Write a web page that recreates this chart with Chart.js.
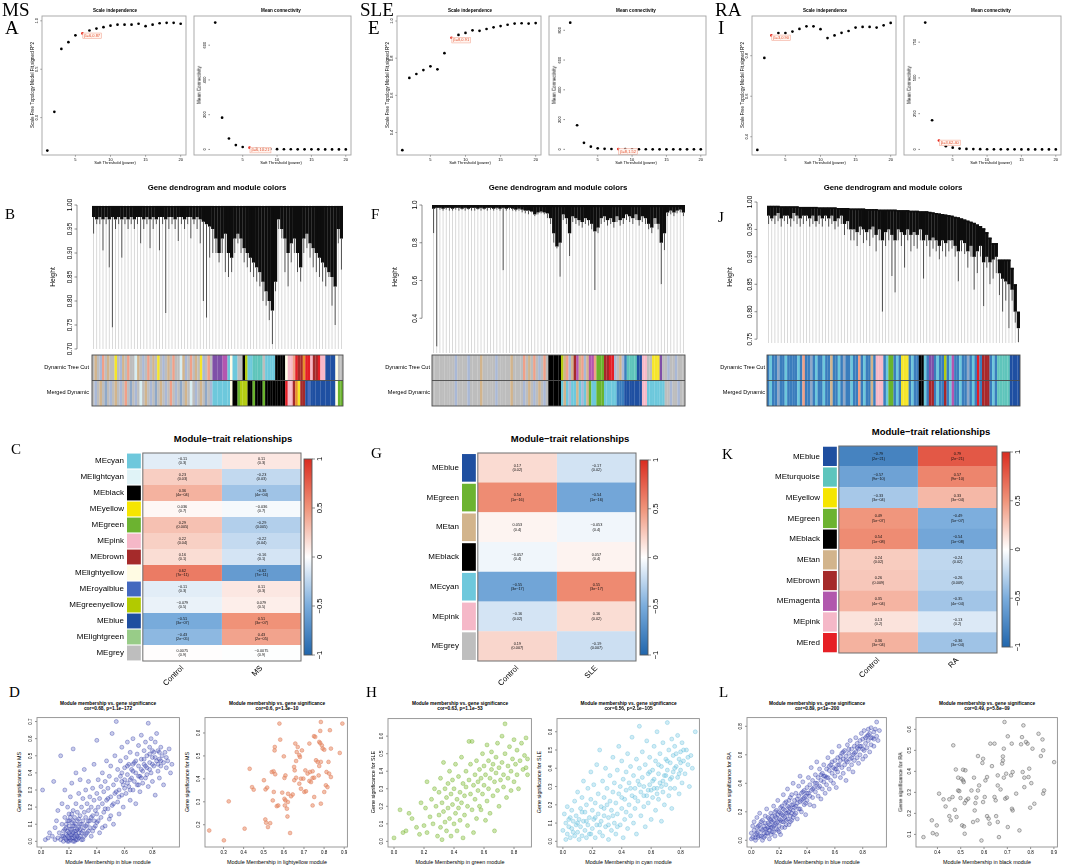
<!DOCTYPE html>
<html>
<head>
<meta charset="utf-8">
<title>WGCNA MS / SLE / RA</title>
<script src="https://cdn.jsdelivr.net/npm/chart.js@4.4.1/dist/chart.umd.min.js"></script>
<style>
  html, body { margin: 0; padding: 0; background: #fff; }
  #fig { position: relative; width: 1065px; height: 867px; overflow: hidden; font-family: "Liberation Sans", Arial, sans-serif; }
  #fig canvas { position: absolute; }
  .t { position: absolute; white-space: nowrap; color: #000; line-height: 1; }
  .serif { font-family: "Liberation Serif", "Times New Roman", serif; }
</style>
</head>
<body>
<div id="fig"></div>
<script>
// ---------- soft threshold (row 1) ----------
const powers = [1, 2, 3, 4, 5, 6, 7, 8, 9, 10, 11, 12, 13, 14, 15, 16, 17, 18, 19, 20];
const powerTicks = [5, 10, 15, 20];
const msFit = [-0.34, 0.06, 0.71, 0.78, 0.85, 0.87, 0.90, 0.92, 0.935, 0.95, 0.96, 0.96, 0.96, 0.97, 0.945, 0.96, 0.975, 0.98, 0.98, 0.97];
const sleFit = [0.305, 0.694, 0.715, 0.736, 0.756, 0.74, 0.827, 0.91, 0.925, 0.936, 0.95, 0.947, 0.957, 0.966, 0.973, 0.98, 0.986, 0.988, 0.986, 0.989];
const raFit = [0.335, 0.789, 0.90, 0.912, 0.912, 0.919, 0.932, 0.945, 0.945, 0.931, 0.887, 0.90, 0.913, 0.922, 0.939, 0.942, 0.942, 0.939, 0.95, 0.962];
const msMeanK = [730, 183, 63, 25, 14, 10.2, 4.5, 3, 2.2, 1.6, 1.2, 1, 0.8, 0.6, 0.5, 0.4, 0.3, 0.3, 0.2, 0.2];
const sleMeanK = [851, 162, 44, 18, 7, 3.5, 2.2, 1.52, 1.0, 0.8, 0.6, 0.5, 0.4, 0.3, 0.3, 0.2, 0.2, 0.2, 0.1, 0.1];
const raMeanK = [887, 204, 62.4, 23, 12, 6, 3.5, 2.2, 1.5, 1.1, 0.8, 0.6, 0.5, 0.4, 0.3, 0.3, 0.2, 0.2, 0.2, 0.1];
const msBeta = 6, sleBeta = 8, raBeta = 3;
const msFitNote = 'β=6,0.87', msKNote = 'β=6,10.21';
const sleFitNote = 'β=8,0.91', sleKNote = 'β=8,1.52';
const raFitNote = 'β=3,0.90', raKNote = 'β=3,62.40';
const msFitTicks = [0.0, 0.5, 1.0], sleFitTicks = [0.4, 0.6, 0.8, 1.0], raFitTicks = [0.4, 0.6, 0.8];
const msKTicks = [0, 200, 400, 600], sleKTicks = [0, 200, 400, 600, 800], raKTicks = [0, 250, 500, 750];

// ---------- dendrograms (row 2) ----------
const msBranchLow = [0.975,0.97,0.975,0.97,0.975,0.97,0.975,0.97,0.975,0.97,
  0.975,0.97,0.975,0.97,0.975,0.975,0.97,0.975,0.97,0.975,
  0.97,0.975,0.975,0.97,0.975,0.975,0.97,0.975,0.975,0.97,
  0.975,0.975,0.97,0.975,0.97,0.965,0.96,0.955,0.95,0.93,
  0.90,0.93,0.94,0.90,0.89,0.93,0.94,0.93,0.91,0.90,
  0.89,0.88,0.87,0.86,0.84,0.82,0.80,0.78,0.84,0.97,
  0.95,0.93,0.90,0.92,0.93,0.90,0.87,0.93,0.94,0.92,
  0.91,0.90,0.89,0.88,0.87,0.86,0.85,0.83,0.95,0.93];
const msLeafTip = [0.94,0.96,0.96,0.905,0.96,0.87,0.745,0.95,0.96,0.89,
  0.96,0.95,0.96,0.95,0.96,0.92,0.95,0.96,0.91,0.95,
  0.96,0.905,0.96,0.775,0.95,0.96,0.95,0.925,0.96,0.95,
  0.96,0.93,0.96,0.95,0.92,0.80,0.765,0.89,0.90,0.90,
  0.88,0.90,0.86,0.85,0.86,0.90,0.92,0.90,0.88,0.87,
  0.86,0.85,0.84,0.83,0.80,0.79,0.76,0.71,0.82,0.95,
  0.93,0.86,0.83,0.88,0.90,0.86,0.84,0.90,0.91,0.89,
  0.87,0.86,0.85,0.84,0.83,0.85,0.79,0.75,0.92,0.865];
const msBranchTop = 0.998;
const sleBranchLow = [0.98,0.985,0.985,0.98,0.985,0.985,0.98,0.985,0.985,0.98,
  0.985,0.98,0.985,0.985,0.98,0.985,0.98,0.985,0.985,0.98,
  0.985,0.98,0.985,0.98,0.985,0.98,0.975,0.98,0.975,0.97,
  0.97,0.965,0.95,0.96,0.965,0.96,0.955,0.93,0.85,0.78,
  0.80,0.95,0.93,0.85,0.94,0.93,0.92,0.91,0.93,0.92,
  0.90,0.86,0.88,0.93,0.94,0.92,0.93,0.91,0.94,0.92,
  0.93,0.95,0.94,0.93,0.95,0.92,0.94,0.93,0.90,0.88,
  0.93,0.90,0.80,0.85,0.96,0.97,0.96,0.97,0.975,0.96];
const sleLeafTip = [0.85,0.25,0.975,0.97,0.975,0.97,0.97,0.975,0.97,0.975,
  0.97,0.975,0.97,0.97,0.975,0.97,0.975,0.97,0.975,0.97,
  0.975,0.97,0.655,0.97,0.975,0.97,0.965,0.97,0.96,0.955,
  0.95,0.96,0.94,0.95,0.955,0.95,0.93,0.90,0.80,0.77,
  0.62,0.92,0.90,0.73,0.91,0.90,0.89,0.88,0.90,0.89,
  0.87,0.55,0.85,0.90,0.91,0.89,0.90,0.88,0.91,0.89,
  0.90,0.92,0.91,0.90,0.92,0.89,0.91,0.90,0.87,0.85,
  0.90,0.87,0.58,0.76,0.94,0.95,0.94,0.955,0.96,0.94];
const sleBranchTop = 1.0;
const raBranchTop = [0.993,0.993,0.993,0.993,0.992,0.992,0.992,0.992,0.992,0.992,
  0.991,0.991,0.991,0.991,0.991,0.991,0.990,0.990,0.990,0.990,
  0.990,0.990,0.989,0.989,0.989,0.989,0.988,0.988,0.988,0.988,
  0.988,0.987,0.987,0.987,0.987,0.986,0.986,0.986,0.986,0.986,
  0.986,0.985,0.985,0.985,0.985,0.984,0.984,0.984,0.983,0.983,
  0.983,0.982,0.981,0.980,0.979,0.978,0.977,0.976,0.975,0.973,
  0.972,0.970,0.968,0.966,0.964,0.962,0.959,0.956,0.952,0.945,
  0.935,0.925,0.925,0.895,0.895,0.895,0.895,0.88,0.85,0.80];
const raBranchLow = [0.975,0.97,0.975,0.98,0.97,0.975,0.975,0.97,0.98,0.975,
  0.97,0.975,0.975,0.97,0.975,0.965,0.975,0.97,0.975,0.97,
  0.975,0.965,0.97,0.975,0.96,0.965,0.95,0.95,0.945,0.955,
  0.95,0.945,0.95,0.955,0.94,0.95,0.93,0.945,0.95,0.94,
  0.93,0.95,0.945,0.94,0.95,0.94,0.945,0.94,0.95,0.93,
  0.94,0.93,0.935,0.93,0.92,0.93,0.925,0.93,0.93,0.92,
  0.91,0.93,0.925,0.91,0.92,0.90,0.91,0.92,0.89,0.90,
  0.89,0.895,0.90,0.87,0.86,0.855,0.85,0.84,0.80,0.77];
const raLeafTip = [0.96,0.965,0.96,0.965,0.955,0.965,0.96,0.955,0.965,0.96,
  0.955,0.96,0.965,0.955,0.96,0.955,0.96,0.955,0.965,0.955,
  0.96,0.95,0.955,0.96,0.94,0.95,0.93,0.93,0.92,0.94,
  0.925,0.93,0.92,0.935,0.91,0.93,0.80,0.92,0.93,0.865,
  0.835,0.93,0.92,0.88,0.93,0.91,0.92,0.915,0.93,0.86,
  0.92,0.90,0.915,0.91,0.895,0.91,0.90,0.91,0.915,0.90,
  0.855,0.91,0.905,0.88,0.90,0.84,0.87,0.90,0.81,0.88,
  0.85,0.86,0.87,0.83,0.80,0.82,0.77,0.82,0.78,0.745];
const msDendroTicks = [0.70, 0.75, 0.80, 0.85, 0.90, 0.95, 1.00];
const sleDendroTicks = [0.4, 0.6, 0.8, 1.0];
const raDendroTicks = [0.75, 0.80, 0.85, 0.90, 0.95, 1.00];

// module colour rows under the dendrograms (one letter per column)
const msDynamic = '.t.vs.t.' + '.y.vt.s.' + '.lt.v.s.' + 't.y.v.t.' + 's..ltv.s' + '.t.yv.s.' +
  'uuuumm' + 'cwcc..ke' + 'ccqqqq.cccc' + 'kkkkwpp' + 'sRbboRRpbbRppBBBBw..';
const msMerged = '.v.t.g.v' + '.t.v.s.g' + '.v.l.t.v' + '.g.t.v.s' + '.v.g.t.l' + '.v.t.g.v' +
  'cccccccw' + 'kkneee' + 'kknkkkn' + 'kkkkkkkk' + 'Rppboyb' + 'bBrB' + 'BBBBBBBBB' + 'wnn';
const sleDynamic = '.........v' + '....v....t' + '.....v....' + '.t....s.t.' + 's.v.s.' +
  'kkkkke' + 'tsvtbmtsvt' + 'mmsnnnddRR' + 'v.tvTqqqqBBpp..' + 'yyyu' + '..v..v...';
const sleMerged = '.........v' + '....v....t' + '.....v....' + '.t....v.t.' + 'v.t.v.' +
  'kkkkk' + 'ctcvcctcvct' + 'nccnnnccccc' + 'TTTBBBBBBB' + 'pp' + 'ccccccc' + '..v..v..';
const raDynamic = 'TcTTgTTcTT' + 'TTcTsTTgTc' + 'TTcTTtTTcT' + 'gTTcTTsTcT' + 'TtTpppTcnn' +
  'TcTyyyTcTT' + 'kkcTuuTcTT' + 'eTcmTTcTTg' + 'TcTRTdddTc' + 'TqqqqqBBBB';
const raMerged = 'TcTTgTTcTT' + 'TTcTsTTgTc' + 'TTcTTtTTcT' + 'gTTcTTsTcT' + 'TtTpppTcnn' +
  'TcTyyyTcTT' + 'kkcTddTcTT' + 'dTcmTTcTTg' + 'TcTRTdddTc' + 'TqqqqqBBBB';

// ---------- module-trait heatmaps (row 3) ----------
const msModules = ['cyan','lightcyan','black','yellow','green','pink','brown','lightyellow','royalblue','greenyellow','blue','lightgreen','grey'];
const msCorControl = [-0.11, 0.23, 0.36, 0.036, 0.29, 0.22, 0.16, 0.62, -0.11, -0.079, -0.51, -0.43, 0.0075];
const msCorTrait = [0.11, -0.23, -0.36, -0.036, -0.29, -0.22, -0.16, -0.62, 0.11, 0.079, 0.51, 0.43, -0.0075];
const msPvals = ['0.3','0.03','4e-04','0.7','0.005','0.04','0.1','7e-11','0.3','0.5','3e-07','2e-05','0.9'];
const sleModules = ['blue','green','tan','black','cyan','pink','grey'];
const sleCorControl = [0.17, 0.54, 0.053, -0.057, -0.55, -0.16, 0.19];
const sleCorTrait = [-0.17, -0.54, -0.053, 0.057, 0.55, 0.16, -0.19];
const slePvals = ['0.02','1e-16','0.4','0.4','3e-17','0.02','0.007'];
const raModules = ['blue','turquoise','yellow','green','black','tan','brown','magenta','pink','red'];
const raCorControl = [-0.79, -0.57, -0.33, 0.49, 0.54, 0.24, 0.26, 0.35, 0.13, 0.36];
const raCorTrait = [0.79, 0.57, 0.33, -0.49, -0.54, -0.24, -0.26, -0.35, -0.13, -0.36];
const raPvals = ['2e-21','9e-10','3e-04','5e-07','1e-08','0.02','0.009','4e-04','0.2','3e-04'];
const legendTicks = [-1, -0.5, 0, 0.5, 1];

// ---------- MM vs GS scatter (row 4), [membership, significance] ----------
const msBluePts = [[0.01,0.30],[0.03,0.01],[0.05,0.02],[0.06,0.05],[0.08,0.03],[0.09,0.35],[0.10,0.01],[0.10,0.08],[0.11,0.12],[0.12,0.02],[0.12,0.18],[0.13,0.05],[0.14,0.50],[0.14,0.01],[0.15,0.03],[0.15,0.10],[0.15,0.22],[0.16,0.00],[0.16,0.06],[0.17,0.02],[0.17,0.14],[0.17,0.30],[0.18,0.01],[0.18,0.04],[0.18,0.08],[0.19,0.00],[0.19,0.03],[0.19,0.12],[0.19,0.20],[0.20,0.02],[0.20,0.05],[0.20,0.09],[0.20,0.16],[0.21,0.01],[0.21,0.04],[0.21,0.26],[0.22,0.02],[0.22,0.07],[0.22,0.11],[0.22,0.34],[0.23,0.00],[0.23,0.05],[0.23,0.18],[0.23,0.54],[0.24,0.03],[0.24,0.09],[0.24,0.14],[0.25,0.01],[0.25,0.06],[0.25,0.22],[0.25,0.40],[0.26,0.03],[0.26,0.12],[0.26,0.17],[0.27,0.08],[0.27,0.28],[0.27,0.02],[0.28,0.10],[0.28,0.15],[0.28,0.36],[0.29,0.05],[0.29,0.20],[0.30,0.12],[0.30,0.25],[0.30,0.01],[0.31,0.08],[0.31,0.17],[0.31,0.42],[0.32,0.04],[0.32,0.14],[0.32,0.30],[0.33,0.10],[0.33,0.22],[0.34,0.06],[0.34,0.18],[0.34,0.35],[0.35,0.12],[0.35,0.26],[0.36,0.03],[0.36,0.20],[0.37,0.15],[0.37,0.31],[0.38,0.08],[0.38,0.24],[0.38,0.45],[0.39,0.18],[0.40,0.11],[0.40,0.28],[0.40,0.59],[0.41,0.20],[0.41,0.36],[0.42,0.05],[0.42,0.25],[0.43,0.14],[0.43,0.32],[0.44,0.22],[0.44,0.40],[0.45,0.17],[0.45,0.29],[0.46,0.09],[0.46,0.35],[0.47,0.24],[0.47,0.47],[0.48,0.19],[0.48,0.31],[0.49,0.13],[0.49,0.38],[0.50,0.26],[0.50,0.44],[0.51,0.21],[0.51,0.63],[0.52,0.33],[0.52,0.10],[0.53,0.28],[0.53,0.50],[0.54,0.70],[0.54,0.36],[0.55,0.23],[0.55,0.42],[0.56,0.30],[0.56,0.16],[0.57,0.47],[0.57,0.38],[0.58,0.27],[0.58,0.55],[0.59,0.33],[0.59,0.20],[0.60,0.43],[0.60,0.36],[0.61,0.49],[0.61,0.28],[0.62,0.39],[0.62,0.58],[0.63,0.32],[0.63,0.45],[0.64,0.24],[0.64,0.52],[0.65,0.37],[0.65,0.42],[0.66,0.30],[0.66,0.60],[0.67,0.46],[0.67,0.35],[0.68,0.40],[0.68,0.22],[0.69,0.51],[0.69,0.33],[0.70,0.44],[0.70,0.56],[0.71,0.38],[0.71,0.29],[0.72,0.48],[0.72,0.62],[0.73,0.41],[0.73,0.34],[0.74,0.53],[0.74,0.45],[0.75,0.37],[0.75,0.58],[0.76,0.43],[0.76,0.50],[0.77,0.32],[0.77,0.69],[0.78,0.46],[0.78,0.55],[0.79,0.40],[0.79,0.60],[0.80,0.49],[0.80,0.35],[0.81,0.52],[0.81,0.44],[0.82,0.58],[0.82,0.27],[0.83,0.47],[0.83,0.63],[0.84,0.41],[0.84,0.53],[0.85,0.48],[0.85,0.37],[0.86,0.55],[0.86,0.44],[0.87,0.50],[0.88,0.46],[0.88,0.33],[0.89,0.52],[0.90,0.43],[0.91,0.47],[0.92,0.54],[0.93,0.40],[0.94,0.45],
  [0.16,0.03],[0.17,0.07],[0.18,0.10],[0.19,0.06],[0.20,0.00],[0.20,0.12],[0.21,0.07],[0.21,0.14],[0.22,0.04],[0.22,0.16],[0.23,0.02],[0.23,0.09],[0.23,0.12],[0.24,0.06],[0.24,0.00],[0.25,0.04],[0.25,0.10],[0.26,0.07],[0.26,0.01],[0.27,0.05],[0.27,0.13],[0.28,0.03],[0.28,0.07],[0.29,0.10],[0.29,0.01],[0.30,0.06],[0.31,0.03],[0.32,0.09],[0.33,0.05],[0.34,0.12],[0.35,0.08],[0.36,0.14],[0.37,0.06],[0.38,0.12],[0.39,0.09],[0.40,0.16],[0.41,0.12],[0.44,0.08],[0.46,0.19],[0.48,0.25],[0.50,0.15],[0.52,0.22],[0.54,0.29],[0.56,0.26],[0.58,0.35],[0.60,0.31],[0.62,0.44],[0.64,0.36],[0.66,0.41],[0.68,0.47],[0.70,0.38],[0.72,0.42],[0.74,0.48],[0.76,0.39],[0.78,0.51],[0.80,0.45],[0.82,0.49],[0.84,0.45],[0.86,0.47],[0.64,0.30],[0.70,0.33],[0.75,0.44],[0.80,0.53],[0.85,0.52],[0.90,0.49],[0.58,0.40],[0.62,0.34],[0.66,0.45],[0.72,0.37],[0.78,0.42]];
const msLightyellowPts = [[0.229,0.175],[0.302,0.132],[0.326,0.302],[0.405,0.183],[0.430,0.444],[0.442,0.364],[0.450,0.353],[0.501,0.394],[0.509,0.354],[0.517,0.362],[0.540,0.430],[0.549,0.433],[0.557,0.420],[0.550,0.343],[0.565,0.281],[0.572,0.284],[0.508,0.223],[0.512,0.209],[0.521,0.190],[0.532,0.207],[0.545,0.306],[0.554,0.524],[0.555,0.539],[0.582,0.571],[0.578,0.641],[0.600,0.498],[0.603,0.404],[0.608,0.415],[0.592,0.340],[0.603,0.313],[0.608,0.306],[0.620,0.299],[0.605,0.284],[0.615,0.270],[0.621,0.335],[0.636,0.324],[0.644,0.332],[0.618,0.236],[0.631,0.164],[0.651,0.452],[0.654,0.437],[0.661,0.478],[0.657,0.554],[0.664,0.517],[0.669,0.539],[0.677,0.503],[0.680,0.495],[0.690,0.524],[0.652,0.394],[0.661,0.405],[0.677,0.379],[0.685,0.401],[0.697,0.401],[0.685,0.357],[0.702,0.343],[0.710,0.346],[0.707,0.437],[0.718,0.423],[0.730,0.430],[0.743,0.433],[0.727,0.391],[0.735,0.386],[0.743,0.404],[0.751,0.405],[0.750,0.586],[0.756,0.583],[0.727,0.554],[0.760,0.481],[0.768,0.474],[0.773,0.415],[0.776,0.456],[0.784,0.474],[0.776,0.561],[0.781,0.556],[0.789,0.546],[0.781,0.609],[0.784,0.648],[0.784,0.292],[0.801,0.343],[0.809,0.372],[0.793,0.532],[0.801,0.527],[0.743,0.284],[0.751,0.321],[0.812,0.430],[0.825,0.423],[0.822,0.474],[0.834,0.408],[0.891,0.641],[0.878,0.513],[0.817,0.364],[0.829,0.612],[0.834,0.532]];
const sleGreenPts = [[0.00,0.02],[0.04,0.18],[0.06,0.05],[0.08,0.06],[0.10,0.16],[0.12,0.13],[0.15,0.08],[0.17,0.04],[0.18,0.22],[0.20,0.09],[0.21,0.19],[0.22,0.34],[0.22,0.05],[0.24,0.14],[0.25,0.24],[0.26,0.10],[0.27,0.30],[0.28,0.20],[0.29,0.03],[0.30,0.15],[0.30,0.28],[0.31,0.36],[0.31,0.08],[0.32,0.22],[0.32,0.01],[0.33,0.45],[0.33,0.17],[0.34,0.30],[0.34,0.11],[0.35,0.25],[0.35,0.06],[0.36,0.19],[0.36,0.33],[0.37,0.40],[0.37,0.13],[0.38,0.27],[0.38,0.03],[0.39,0.21],[0.39,0.35],[0.40,0.10],[0.40,0.30],[0.41,0.16],[0.41,0.44],[0.42,0.24],[0.42,0.06],[0.43,0.37],[0.43,0.19],[0.44,0.28],[0.44,0.12],[0.45,0.48],[0.45,0.22],[0.46,0.33],[0.46,0.02],[0.47,0.26],[0.47,0.15],[0.48,0.40],[0.48,0.31],[0.49,0.20],[0.49,0.09],[0.50,0.35],[0.50,0.57],[0.51,0.27],[0.51,0.44],[0.52,0.18],[0.52,0.57],[0.53,0.32],[0.53,0.05],[0.54,0.38],[0.54,0.24],[0.55,0.46],[0.55,0.13],[0.56,0.29],[0.56,0.34],[0.57,0.41],[0.57,0.20],[0.58,0.18],[0.58,0.36],[0.59,0.50],[0.59,0.27],[0.60,0.32],[0.60,0.43],[0.61,0.12],[0.61,0.38],[0.62,0.55],[0.62,0.23],[0.63,0.46],[0.63,0.30],[0.64,0.36],[0.64,0.16],[0.65,0.51],[0.65,0.41],[0.66,0.26],[0.66,0.44],[0.67,0.34],[0.67,0.06],[0.68,0.48],[0.68,0.39],[0.69,0.29],[0.69,0.56],[0.70,0.42],[0.70,0.20],[0.71,0.35],[0.72,0.60],[0.72,0.45],[0.73,0.31],[0.73,0.38],[0.74,0.67],[0.74,0.50],[0.75,0.25],[0.76,0.43],[0.76,0.36],[0.77,0.54],[0.78,0.40],[0.78,0.29],[0.79,0.47],[0.80,0.34],[0.80,0.58],[0.81,0.44],[0.82,0.38],[0.82,0.52],[0.83,0.30],[0.84,0.46],[0.85,0.56],[0.86,0.41],[0.87,0.49],[0.88,0.42],[0.88,0.59],[0.89,0.47],[0.89,0.38]];
const sleCyanPts = [[0.00,0.06],[0.01,0.15],[0.02,0.01],[0.02,0.10],[0.03,0.04],[0.03,0.19],[0.04,0.08],[0.05,0.13],[0.05,0.02],[0.06,0.17],[0.06,0.07],[0.07,0.11],[0.08,0.03],[0.08,0.22],[0.09,0.09],[0.09,0.14],[0.10,0.05],[0.10,0.27],[0.11,0.12],[0.11,0.01],[0.12,0.18],[0.12,0.08],[0.13,0.03],[0.13,0.24],[0.14,0.11],[0.14,0.33],[0.15,0.06],[0.15,0.16],[0.16,0.20],[0.16,0.02],[0.17,0.09],[0.17,0.29],[0.18,0.13],[0.18,0.04],[0.19,0.23],[0.19,0.38],[0.20,0.07],[0.20,0.17],[0.21,0.12],[0.21,0.31],[0.22,0.02],[0.22,0.21],[0.23,0.09],[0.23,0.42],[0.24,0.15],[0.24,0.26],[0.25,0.05],[0.25,0.50],[0.26,0.19],[0.26,0.11],[0.27,0.33],[0.27,0.03],[0.28,0.24],[0.28,0.14],[0.29,0.40],[0.29,0.08],[0.30,0.20],[0.30,0.29],[0.31,0.01],[0.31,0.13],[0.32,0.36],[0.32,0.22],[0.33,0.06],[0.33,0.17],[0.34,0.46],[0.34,0.27],[0.35,0.10],[0.35,0.32],[0.36,0.04],[0.36,0.21],[0.37,0.39],[0.37,0.15],[0.38,0.26],[0.38,0.52],[0.39,0.09],[0.39,0.30],[0.40,0.18],[0.40,0.44],[0.41,0.02],[0.41,0.34],[0.42,0.23],[0.42,0.12],[0.43,0.38],[0.43,0.28],[0.44,0.07],[0.44,0.48],[0.45,0.20],[0.45,0.32],[0.46,0.14],[0.46,0.41],[0.47,0.25],[0.47,0.57],[0.48,0.10],[0.48,0.36],[0.49,0.29],[0.49,0.18],[0.50,0.45],[0.50,0.04],[0.51,0.33],[0.51,0.22],[0.52,0.40],[0.52,0.63],[0.53,0.27],[0.53,0.14],[0.54,0.49],[0.54,0.35],[0.55,0.19],[0.55,0.30],[0.56,0.42],[0.56,0.08],[0.57,0.25],[0.57,0.55],[0.58,0.37],[0.58,0.21],[0.59,0.31],[0.59,0.46],[0.60,0.12],[0.60,0.28],[0.61,0.39],[0.61,0.24],[0.62,0.52],[0.62,0.34],[0.63,0.17],[0.63,0.44],[0.64,0.29],[0.64,0.60],[0.65,0.37],[0.65,0.23],[0.66,0.48],[0.66,0.32],[0.67,0.11],[0.67,0.41],[0.68,0.27],[0.68,0.54],[0.69,0.36],[0.69,0.20],[0.70,0.45],[0.70,0.31],[0.71,0.65],[0.71,0.39],[0.72,0.25],[0.72,0.50],[0.73,0.34],[0.73,0.43],[0.74,0.18],[0.74,0.56],[0.75,0.38],[0.75,0.47],[0.76,0.29],[0.76,0.52],[0.77,0.41],[0.78,0.35],[0.78,0.58],[0.79,0.45],[0.79,0.26],[0.80,0.49],[0.80,0.39],[0.81,0.54],[0.81,0.32],[0.82,0.44],[0.83,0.37],[0.84,0.50],[0.85,0.42],[0.86,0.30],[0.87,0.47],[0.88,0.40],[0.90,0.60],
  [0.04,0.12],[0.07,0.05],[0.10,0.10],[0.13,0.16],[0.16,0.11],[0.19,0.04],[0.22,0.13],[0.25,0.09],[0.28,0.18],[0.31,0.09],[0.34,0.14],[0.37,0.08],[0.40,0.24],[0.43,0.16],[0.46,0.29],[0.49,0.24],[0.52,0.31],[0.55,0.25],[0.58,0.28],[0.61,0.33],[0.64,0.26],[0.67,0.30],[0.70,0.36],[0.73,0.29],[0.76,0.40],[0.79,0.37],[0.82,0.50],[0.85,0.46],[0.59,0.38],[0.62,0.29],[0.65,0.42],[0.68,0.33],[0.71,0.44],[0.74,0.35],[0.77,0.48],[0.80,0.43]];
const raBluePts = [[0.00,0.01],[0.00,0.05],[0.01,0.10],[0.01,0.02],[0.02,0.07],[0.02,0.13],[0.03,0.00],[0.03,0.04],[0.04,0.09],[0.04,0.16],[0.05,0.02],[0.05,0.06],[0.06,0.11],[0.06,0.19],[0.07,0.03],[0.07,0.08],[0.08,0.14],[0.08,0.00],[0.09,0.05],[0.09,0.10],[0.10,0.17],[0.10,0.03],[0.11,0.08],[0.11,0.22],[0.12,0.12],[0.12,0.05],[0.13,0.15],[0.13,0.01],[0.14,0.09],[0.14,0.19],[0.15,0.06],[0.15,0.13],[0.16,0.24],[0.16,0.10],[0.17,0.03],[0.17,0.17],[0.18,0.12],[0.18,0.21],[0.19,0.07],[0.19,0.28],[0.20,0.15],[0.20,0.10],[0.21,0.19],[0.21,0.04],[0.22,0.24],[0.22,0.13],[0.23,0.32],[0.23,0.17],[0.24,0.09],[0.24,0.21],[0.25,0.14],[0.25,0.27],[0.26,0.19],[0.26,0.36],[0.27,0.23],[0.27,0.11],[0.28,0.17],[0.28,0.30],[0.29,0.25],[0.29,0.14],[0.30,0.21],[0.30,0.40],[0.31,0.28],[0.31,0.18],[0.32,0.24],[0.32,0.33],[0.33,0.15],[0.33,0.29],[0.34,0.22],[0.34,0.38],[0.35,0.27],[0.35,0.45],[0.36,0.20],[0.36,0.33],[0.37,0.29],[0.37,0.41],[0.38,0.25],[0.38,0.35],[0.39,0.31],[0.39,0.18],[0.40,0.37],[0.40,0.28],[0.41,0.44],[0.41,0.33],[0.42,0.25],[0.42,0.39],[0.43,0.35],[0.43,0.51],[0.44,0.30],[0.44,0.42],[0.45,0.37],[0.45,0.24],[0.46,0.46],[0.46,0.34],[0.47,0.40],[0.47,0.55],[0.48,0.31],[0.48,0.44],[0.49,0.38],[0.49,0.50],[0.50,0.42],[0.50,0.29],[0.51,0.47],[0.51,0.36],[0.52,0.53],[0.52,0.41],[0.53,0.33],[0.53,0.45],[0.54,0.50],[0.54,0.39],[0.55,0.58],[0.55,0.44],[0.56,0.36],[0.56,0.49],[0.57,0.53],[0.57,0.42],[0.58,0.47],[0.58,0.62],[0.59,0.40],[0.59,0.51],[0.60,0.56],[0.60,0.45],[0.61,0.50],[0.61,0.37],[0.62,0.58],[0.62,0.48],[0.63,0.53],[0.63,0.66],[0.64,0.44],[0.64,0.56],[0.65,0.51],[0.65,0.61],[0.66,0.47],[0.66,0.57],[0.67,0.63],[0.67,0.53],[0.68,0.42],[0.68,0.59],[0.69,0.55],[0.69,0.67],[0.70,0.50],[0.70,0.61],[0.71,0.57],[0.71,0.70],[0.72,0.53],[0.72,0.64],[0.73,0.60],[0.73,0.48],[0.74,0.66],[0.74,0.56],[0.75,0.62],[0.75,0.72],[0.76,0.58],[0.76,0.68],[0.77,0.54],[0.77,0.64],[0.78,0.70],[0.78,0.60],[0.79,0.75],[0.79,0.66],[0.80,0.57],[0.80,0.71],[0.81,0.63],[0.81,0.77],[0.82,0.68],[0.82,0.59],[0.83,0.73],[0.83,0.65],[0.84,0.78],[0.84,0.70],[0.85,0.62],[0.85,0.75],[0.86,0.67],[0.86,0.79],[0.87,0.72],[0.88,0.76],[0.88,0.66],[0.89,0.78],[0.90,0.73],[0.90,0.83],[0.91,0.70],[0.92,0.77],
  [0.03,0.02],[0.04,0.05],[0.05,0.10],[0.06,0.03],[0.07,0.13],[0.08,0.07],[0.09,0.02],[0.10,0.08],[0.10,0.12],[0.11,0.05],[0.12,0.09],[0.12,0.16],[0.13,0.07],[0.13,0.11],[0.14,0.04],[0.14,0.14],[0.15,0.09],[0.15,0.17],[0.16,0.06],[0.16,0.14],[0.17,0.11],[0.17,0.20],[0.18,0.08],[0.18,0.16],[0.19,0.13],[0.19,0.18],[0.20,0.06],[0.20,0.20],[0.21,0.14],[0.21,0.23],[0.22,0.09],[0.22,0.18],[0.23,0.13],[0.23,0.22],[0.24,0.16],[0.24,0.26],[0.25,0.11],[0.25,0.19],[0.26,0.15],[0.26,0.24],[0.27,0.20],[0.27,0.28],[0.28,0.13],[0.28,0.22],[0.29,0.19],[0.29,0.32],[0.30,0.16],[0.30,0.25],[0.31,0.23],[0.32,0.19],[0.33,0.26],[0.34,0.31],[0.35,0.22],[0.36,0.28],[0.37,0.34],[0.38,0.30],[0.39,0.26],[0.40,0.33],[0.42,0.31],[0.44,0.36],[0.46,0.40],[0.48,0.37],[0.50,0.46],[0.52,0.45],[0.54,0.44],[0.56,0.52],[0.58,0.55],[0.60,0.50],[0.62,0.53],[0.64,0.59],[0.66,0.62],[0.68,0.56],[0.70,0.64],[0.72,0.58],[0.74,0.61],[0.76,0.65],[0.78,0.66],[0.80,0.64],[0.82,0.72],[0.84,0.74],[0.86,0.72],[0.88,0.71]];
const raBlackPts = [[0.340,0.087],[0.376,0.167],[0.380,0.106],[0.397,0.100],[0.397,0.143],[0.407,0.294],[0.426,0.267],[0.435,0.233],[0.451,0.187],[0.457,0.167],[0.451,0.267],[0.465,0.278],[0.468,0.524],[0.475,0.217],[0.479,0.409],[0.482,0.183],[0.489,0.370],[0.489,0.309],[0.494,0.306],[0.499,0.273],[0.503,0.365],[0.506,0.143],[0.510,0.408],[0.510,0.357],[0.513,0.349],[0.514,0.138],[0.517,0.103],[0.520,0.405],[0.517,0.249],[0.524,0.262],[0.532,0.270],[0.546,0.309],[0.553,0.159],[0.557,0.370],[0.560,0.214],[0.563,0.249],[0.567,0.275],[0.572,0.167],[0.574,0.309],[0.574,0.473],[0.579,0.333],[0.589,0.071],[0.593,0.440],[0.596,0.460],[0.596,0.254],[0.603,0.278],[0.606,0.357],[0.613,0.373],[0.613,0.187],[0.620,0.175],[0.624,0.151],[0.627,0.532],[0.634,0.425],[0.645,0.532],[0.645,0.278],[0.650,0.262],[0.652,0.187],[0.659,0.333],[0.659,0.381],[0.659,0.159],[0.664,0.087],[0.671,0.314],[0.678,0.437],[0.681,0.471],[0.681,0.452],[0.685,0.508],[0.685,0.370],[0.688,0.635],[0.691,0.270],[0.695,0.389],[0.698,0.275],[0.702,0.567],[0.716,0.381],[0.719,0.532],[0.720,0.222],[0.723,0.214],[0.723,0.397],[0.752,0.119],[0.759,0.529],[0.763,0.563],[0.766,0.397],[0.769,0.619],[0.773,0.370],[0.773,0.325],[0.780,0.540],[0.787,0.532],[0.791,0.373],[0.794,0.413],[0.798,0.227],[0.803,0.344],[0.808,0.508],[0.816,0.246],[0.834,0.579],[0.844,0.473],[0.851,0.552],[0.854,0.500],[0.854,0.294],[0.858,0.309],[0.901,0.444],[0.738,0.294],[0.702,0.135]];

// ---------- colours ----------
const moduleColors = { cyan: '#6ec8dc', lightcyan: '#e0f3f7', black: '#000000', yellow: '#f6e500', green: '#6cb330',
  pink: '#f5b8c8', brown: '#a52a2a', lightyellow: '#fffbe3', royalblue: '#4368bf', greenyellow: '#b2ca00',
  blue: '#1f4fa0', lightgreen: '#98cc88', grey: '#bebebe', tan: '#d2b48c', turquoise: '#5ec5bd',
  magenta: '#b158ad', red: '#e61f25' };
const stripColors = { '.': '#bdbdbd', v: '#a9b8d6', t: '#d2b48c', s: '#f0a088', y: '#f5e52a', l: '#d8eef2',
  c: '#6dc8dc', k: '#000000', n: '#6ab42d', p: '#f7b9c8', b: '#a52a2a', w: '#fffde6', r: '#4a6ec0',
  e: '#b4cc12', B: '#1f50a2', L: '#98cc8c', q: '#5fc5bb', m: '#b456b0', R: '#e41e26', u: '#7f4fa8',
  o: '#e8902e', d: '#a8262a', T: '#3a7dbd', g: '#8fa8c8' };
const corrStops = [[-1, 33, 102, 172], [-0.5, 122, 172, 220], [0, 255, 255, 255], [0.5, 240, 148, 122], [1, 218, 44, 32]];

function corrColor(v) {
  for (let i = 1; i < corrStops.length; i++) {
    const a = corrStops[i - 1], b = corrStops[i];
    if (v <= b[0]) {
      const t = (v - a[0]) / (b[0] - a[0]);
      return 'rgb(' + [1, 2, 3].map(k => Math.round(a[k] + t * (b[k] - a[k]))).join(',') + ')';
    }
  }
  return 'rgb(218,44,32)';
}
function fmt(v, dec) {
  const s = dec === undefined ? String(v) : v.toFixed(dec);
  return s.replace('-', '\u2212');
}
const FONT = '"Liberation Sans", Arial, sans-serif';

// ---------- plugins ----------
const rAxes = {
  id: 'rAxes',
  afterDraw(chart, args, o) {
    const ctx = chart.ctx, a = chart.chartArea;
    ctx.save();
    ctx.fillStyle = '#000';
    ctx.strokeStyle = '#444';
    ctx.lineWidth = 0.6;
    const y = o.y, x = o.x;
    if (y && y.ticks) {
      const sc = chart.scales.y;
      const right = y.side === 'right', dir = right ? 1 : -1;
      const x0 = right ? a.right + (y.gap || 0) : a.left - (y.gap || 0);
      const tl = y.tickLen === undefined ? 2 : y.tickLen;
      const pix = y.ticks.map(v => sc.getPixelForValue(v));
      if (y.line) {
        ctx.beginPath(); ctx.moveTo(x0, Math.min(...pix)); ctx.lineTo(x0, Math.max(...pix)); ctx.stroke();
      }
      ctx.font = y.size + 'px ' + FONT;
      y.ticks.forEach((v, i) => {
        const py = pix[i];
        if (tl > 0) { ctx.beginPath(); ctx.moveTo(x0, py); ctx.lineTo(x0 + dir * tl, py); ctx.stroke(); }
        const lab = y.labels ? y.labels[i] : fmt(v, y.dec);
        const lx = x0 + dir * (tl + (y.pad === undefined ? 1.5 : y.pad));
        if (y.rotate) {
          ctx.save(); ctx.translate(lx, py); ctx.rotate(-Math.PI / 2);
          ctx.textAlign = 'center'; ctx.textBaseline = right ? 'top' : 'bottom';
          ctx.fillText(lab, 0, 0); ctx.restore();
        } else {
          ctx.textAlign = right ? 'left' : 'right'; ctx.textBaseline = 'middle';
          ctx.fillText(lab, lx, py);
        }
      });
    }
    if (x && x.ticks) {
      const sc = chart.scales.x;
      const y0 = a.bottom + (x.gap || 0);
      const tl = x.tickLen === undefined ? 2 : x.tickLen;
      ctx.font = x.size + 'px ' + FONT;
      x.ticks.forEach((v, i) => {
        const px = sc.getPixelForValue(v);
        if (tl > 0) { ctx.beginPath(); ctx.moveTo(px, y0); ctx.lineTo(px, y0 + tl); ctx.stroke(); }
        const lab = x.labels ? x.labels[i] : fmt(v, x.dec);
        const ly = y0 + tl + (x.pad === undefined ? 1 : x.pad);
        if (x.rot) {
          ctx.save(); ctx.translate(px, ly); ctx.rotate(-x.rot * Math.PI / 180);
          ctx.textAlign = 'right'; ctx.textBaseline = 'middle';
          ctx.fillText(lab, 0, 0); ctx.restore();
        } else {
          ctx.textAlign = 'center'; ctx.textBaseline = 'top';
          ctx.fillText(lab, px, ly);
        }
      });
    }
    ctx.restore();
  }
};
const frame = {
  id: 'frame',
  afterDraw(chart, args, o) {
    if (!o.color) return;
    const a = chart.chartArea, ctx = chart.ctx;
    let l = a.left - (o.left || 0), r = a.right;
    if (o.xFrom !== undefined) { l = chart.scales.x.getPixelForValue(o.xFrom); r = chart.scales.x.getPixelForValue(o.xTo); }
    ctx.save();
    ctx.strokeStyle = o.color; ctx.lineWidth = o.width || 1;
    ctx.strokeRect(l, a.top, r - l, a.bottom - a.top);
    if (o.mid) {
      const m = (a.top + a.bottom) / 2;
      ctx.beginPath(); ctx.moveTo(l, m); ctx.lineTo(r, m); ctx.stroke();
    }
    ctx.restore();
  }
};
const note = {
  id: 'note',
  afterDatasetsDraw(chart, args, o) {
    if (!o.text) return;
    const el = chart.getDatasetMeta(0).data[o.index];
    if (!el) return;
    const ctx = chart.ctx;
    ctx.save();
    ctx.font = '4px ' + FONT;
    const w = ctx.measureText(o.text).width + 3, h = 5.6;
    const bx = el.x + 0.4, by = el.y - 0.4;
    ctx.fillStyle = 'rgba(255,243,238,0.95)'; ctx.fillRect(bx, by, w, h);
    ctx.strokeStyle = '#f2a08c'; ctx.lineWidth = 0.5; ctx.strokeRect(bx, by, w, h);
    ctx.fillStyle = '#e4502e'; ctx.textBaseline = 'middle';
    ctx.fillText(o.text, bx + 1.5, by + h / 2);
    ctx.restore();
  }
};
const cellText = {
  id: 'cellText',
  afterDatasetsDraw(chart, args, o) {
    if (!o.sets) return;
    const ctx = chart.ctx;
    ctx.save();
    ctx.font = '3.8px ' + FONT; ctx.fillStyle = '#111';
    ctx.textAlign = 'center'; ctx.textBaseline = 'middle';
    o.sets.forEach(s => {
      chart.getDatasetMeta(s.index).data.forEach((el, i) => {
        const cx = (el.x + el.base) / 2, cy = el.y;
        ctx.fillText(fmt(s.cor[i]), cx, cy - 2.2);
        ctx.fillText('(' + s.p[i].replace('-', '\u2212') + ')', cx, cy + 2.3);
      });
    });
    ctx.restore();
  }
};
Chart.register(rAxes, frame, note, cellText);
Chart.defaults.font.family = FONT;

// ---------- helpers ----------
const fig = document.getElementById('fig');
function place(area, pad) {
  const c = document.createElement('canvas');
  const w = area[2] + pad[0] + pad[2], h = area[3] + pad[1] + pad[3];
  c.width = w; c.height = h;
  c.style.left = (area[0] - pad[0]) + 'px';
  c.style.top = (area[1] - pad[1]) + 'px';
  c.style.width = w + 'px'; c.style.height = h + 'px';
  fig.appendChild(c);
  return c;
}
function mk(area, pad, type, data, scales, plug, extra) {
  const c = place(area, pad);
  return new Chart(c, {
    type: type,
    data: data,
    options: Object.assign({
      responsive: false, animation: false, events: [],
      layout: { padding: { left: pad[0], top: pad[1], right: pad[2], bottom: pad[3] } },
      scales: scales,
      datasets: { bar: { grouped: false, categoryPercentage: 1, borderWidth: 0 } },
      plugins: Object.assign({ legend: { display: false }, tooltip: { enabled: false } }, plug)
    }, extra || {})
  });
}
function txt(s, x, y, size, o) {
  o = o || {};
  const d = document.createElement('div');
  d.className = 't' + (o.serif ? ' serif' : '');
  d.textContent = s;
  d.style.fontSize = size + 'px';
  if (o.bold) d.style.fontWeight = 'bold';
  d.style.left = x + 'px';
  let tf = '';
  if (o.rot) { d.style.top = y + 'px'; tf = 'translate(-50%,-50%) rotate(-90deg)'; }
  else {
    d.style.top = (o.top ? y : y - size / 2) + 'px';
    if (o.align === 'center') tf = 'translateX(-50%)';
    else if (o.align === 'right') tf = 'translateX(-100%)';
  }
  if (tf) d.style.transform = tf;
  fig.appendChild(d);
}

// ---------- panel builders ----------
function powerChart(area, pad, vals, beta, yr, yTicks, dec, noteText, frameLeft) {
  mk(area, pad, 'scatter',
    { datasets: [{ data: powers.map((p, i) => ({ x: p, y: vals[i] })), pointRadius: 1.35, pointBorderWidth: 0,
      pointBackgroundColor: powers.map(p => p === beta ? '#e8281e' : '#000') }] },
    { x: { type: 'linear', display: false, min: 0.24, max: 20.76 }, y: { type: 'linear', display: false, min: yr[0], max: yr[1] } },
    { frame: { color: '#a3a3a3', left: frameLeft, width: 0.9 }, note: { index: beta - 1, text: noteText },
      rAxes: { x: { ticks: powerTicks, size: 4, tickLen: 1.6, pad: 1 }, y: { ticks: yTicks, dec: dec, size: 4, rotate: true, tickLen: 1.6, pad: 1.5 } } });
}
function dendroChart(area, low, tip, top, band, yr, yTicks, dec, gap) {
  const labels = low.map((_, i) => i);
  const topAt = i => Array.isArray(top) ? top[i] : top;
  mk(area, [32, 9, 3, 9], 'bar',
    { labels: labels, datasets: [
      { data: tip.map(t => [yr[0], t]), backgroundColor: '#cfcfcf', barPercentage: 0.25 },
      { data: tip.map((t, i) => [t, low[i]]), backgroundColor: '#4d4d4d', barPercentage: 0.32 },
      { data: low.map((l, i) => [l, topAt(i)]), backgroundColor: '#0d0d0d', barPercentage: 1.06 },
      { data: low.map((l, i) => [topAt(i) - band, topAt(i)]), backgroundColor: '#0d0d0d', barPercentage: 1.06 }
    ] },
    { x: { display: false }, y: { display: false, min: yr[0], max: yr[1] } },
    { rAxes: { y: { ticks: yTicks, dec: dec, size: 6.4, rotate: true, gap: gap, line: true, tickLen: 2.5, pad: 1.5 } } });
}
function stripChart(area, dyn, mer) {
  const a = dyn.split(''), b = mer.split('');
  const n = Math.max(a.length, b.length);
  const labels = Array.from({ length: n }, (_, i) => i);
  mk(area, [2, 2, 2, 2], 'bar',
    { labels: labels, datasets: [
      { data: a.map(() => [1, 2]), backgroundColor: a.map(k => stripColors[k]), barPercentage: 1.06 },
      { data: b.map(() => [0, 1]), backgroundColor: b.map(k => stripColors[k]), barPercentage: 1.06 }
    ] },
    { x: { display: false }, y: { display: false, min: 0, max: 2 } },
    { frame: { color: '#4a4a4a', width: 0.9, mid: true } });
}
function heatmap(area, pad, modules, ctl, trt, pv, trait) {
  const labels = modules.map(m => 'ME' + m);
  mk(area, pad, 'bar',
    { labels: labels, datasets: [
      { data: modules.map(() => [-0.2, -0.025]), backgroundColor: modules.map(m => moduleColors[m]), barPercentage: 0.93 },
      { data: ctl.map(() => [0, 1]), backgroundColor: ctl.map(corrColor), barPercentage: 1.01 },
      { data: trt.map(() => [1, 2]), backgroundColor: trt.map(corrColor), barPercentage: 1.01 }
    ] },
    { x: { type: 'linear', display: false, min: -0.2, max: 2 }, y: { display: false } },
    { frame: { color: '#6e6e6e', xFrom: 0, xTo: 2, width: 1 },
      cellText: { sets: [{ index: 1, cor: ctl, p: pv }, { index: 2, cor: trt, p: pv }] },
      rAxes: { y: { ticks: modules.map((_, i) => i), labels: labels, size: 8, tickLen: 0, pad: 3 },
               x: { ticks: [0.5, 1.5], labels: ['Control', trait], size: 7.8, tickLen: 0, pad: 6, rot: 45 } } },
    { indexAxis: 'y' });
}
function colorbar(area) {
  mk(area, [2, 5, 16, 5], 'bar',
    { labels: [''], datasets: [{ data: [[-1, 1]], barPercentage: 1,
      backgroundColor: (c) => {
        const a = c.chart.chartArea;
        if (!a) return '#fff';
        const g = c.chart.ctx.createLinearGradient(0, a.bottom, 0, a.top);
        corrStops.forEach(s => g.addColorStop((s[0] + 1) / 2, 'rgb(' + s.slice(1).join(',') + ')'));
        return g;
      } }] },
    { x: { display: false }, y: { display: false, min: -1, max: 1 } },
    { frame: { color: '#555', width: 0.9 },
      rAxes: { y: { ticks: legendTicks, side: 'right', rotate: true, size: 7.6, tickLen: 3, pad: 1.5 } } });
}
function scatter(area, pts, xr, yr, xt, yt, fill, stroke, r) {
  mk(area, [14, 4, 4, 10], 'scatter',
    { datasets: [{ data: pts.map(p => ({ x: p[0], y: p[1] })), pointRadius: r, backgroundColor: fill, borderColor: stroke, borderWidth: 0.6 }] },
    { x: { type: 'linear', display: false, min: xr[0], max: xr[1] }, y: { type: 'linear', display: false, min: yr[0], max: yr[1] } },
    { frame: { color: '#8e8e8e', width: 0.9 },
      rAxes: { x: { ticks: xt, dec: 1, size: 4.5, tickLen: 2, pad: 1.2 }, y: { ticks: yt, dec: 1, size: 4.5, rotate: true, tickLen: 2, pad: 2 } } });
}

// ---------- row 1: soft threshold ----------
[[0, msFit, msMeanK, msBeta, [-0.386, 1.05], msFitTicks, [-32, 768], msKTicks, msFitNote, msKNote],
 [355, sleFit, sleMeanK, sleBeta, [0.279, 1.027], sleFitTicks, [-38, 896], sleKTicks, sleFitNote, sleKNote],
 [710, raFit, raMeanK, raBeta, [0.31, 0.996], raFitTicks, [-39, 933], raKTicks, raFitNote, raKNote]
].forEach(r => {
  const ox = r[0];
  powerChart([ox + 42, 15, 145, 140], [12, 3, 3, 9], r[1], r[3], r[4], r[5], 1, r[8], 0);
  powerChart([ox + 210, 15, 142, 140], [20, 3, 3, 9], r[2], r[3], r[6], r[7], undefined, r[9], 16);
  txt('Scale independence', ox + 115, 11, 4.6, { bold: true, align: 'center' });
  txt('Mean connectivity', ox + 281, 11, 4.6, { bold: true, align: 'center' });
  txt('Soft Threshold (power)', ox + 115, 163, 4.1, { align: 'center' });
  txt('Soft Threshold (power)', ox + 281, 163, 4.1, { align: 'center' });
  txt('Scale Free Topology Model Fit,signed R^2', ox + 33, 85, 4.6, { rot: true });
  txt('Mean Connectivity', ox + 199.5, 85, 4.6, { rot: true });
});

// ---------- row 2: dendrograms ----------
dendroChart([92, 205, 251, 144], msBranchLow, msLeafTip, msBranchTop, 0.003, [0.70, 1.0], msDendroTicks, 2, 15);
dendroChart([432, 205, 253, 148], sleBranchLow, sleLeafTip, sleBranchTop, 0.012, [0.216, 1.0], sleDendroTicks, 1, 10);
dendroChart([767, 202, 253, 141], raBranchLow, raLeafTip, raBranchTop, 0.003, [0.743, 1.0], raDendroTicks, 2, 10);
stripChart([92, 355, 251, 51], msDynamic, msMerged);
stripChart([432, 355, 253, 51], sleDynamic, sleMerged);
stripChart([767, 355, 253, 51], raDynamic, raMerged);
[[217, 53, 89], [558, 395, 430], [893, 730, 765]].forEach(p => {
  txt('Gene dendrogram and module colors', p[0], 188, 7.8, { bold: true, align: 'center' });
  txt('Height', p[1], 277, 6.8, { rot: true });
  txt('Dynamic Tree Cut', p[2], 367.5, 5.6, { align: 'right' });
  txt('Merged Dynamic', p[2], 393, 5.6, { align: 'right' });
});

// ---------- row 3: module-trait heatmaps ----------
heatmap([127, 453, 174, 208], [92, 4, 4, 40], msModules, msCorControl, msCorTrait, msPvals, 'MS');
heatmap([462, 453, 174, 208], [82, 4, 4, 40], sleModules, sleCorControl, sleCorTrait, slePvals, 'SLE');
heatmap([823, 446, 174, 207], [88, 4, 4, 40], raModules, raCorControl, raCorTrait, raPvals, 'RA');
colorbar([304, 459, 8, 196]);
colorbar([640, 460, 8, 195]);
colorbar([1002, 452, 8, 195]);
txt('Module\u2212trait relationships', 233, 439, 9.5, { bold: true, align: 'center' });
txt('Module\u2212trait relationships', 570, 439, 9.5, { bold: true, align: 'center' });
txt('Module\u2212trait relationships', 931, 432, 9.5, { bold: true, align: 'center' });

// ---------- row 4: membership vs significance ----------
const BLUE_F = 'rgba(62,72,178,0.28)', BLUE_S = 'rgba(45,55,165,0.6)';
scatter([37, 717, 143, 130], msBluePts, [-0.03, 0.994], [-0.033, 0.723], [0, 0.2, 0.4, 0.6, 0.8], [0, 0.1, 0.2, 0.3, 0.4, 0.5, 0.6, 0.7], BLUE_F, BLUE_S, 2.0);
scatter([205, 717, 143, 130], msLightyellowPts, [0.208, 0.916], [0.103, 0.667], [0.3, 0.4, 0.5, 0.6, 0.7, 0.8, 0.9], [0.2, 0.3, 0.4, 0.5, 0.6], 'rgba(232,140,100,0.55)', 'rgba(222,118,84,0.75)', 1.9);
scatter([388, 718, 144, 129], sleGreenPts, [-0.04, 0.916], [-0.032, 0.70], [0, 0.2, 0.4, 0.6, 0.8], [0, 0.1, 0.2, 0.3, 0.4, 0.5, 0.6], 'rgba(140,195,70,0.45)', 'rgba(118,178,48,0.65)', 2.0);
scatter([557, 718, 143, 129], sleCyanPts, [-0.04, 0.928], [-0.031, 0.672], [0, 0.2, 0.4, 0.6, 0.8], [0, 0.1, 0.2, 0.3, 0.4, 0.5, 0.6], 'rgba(120,200,225,0.35)', 'rgba(95,188,218,0.6)', 2.0);
scatter([747, 717, 140, 130], raBluePts, [-0.031, 0.97], [-0.047, 0.861], [0, 0.2, 0.4, 0.6, 0.8], [0, 0.2, 0.4, 0.6, 0.8], BLUE_F, BLUE_S, 2.0);
scatter([916, 717, 142, 130], raBlackPts, [0.308, 0.915], [0.04, 0.656], [0.4, 0.5, 0.6, 0.7, 0.8, 0.9], [0.1, 0.2, 0.3, 0.4, 0.5, 0.6], 'rgba(150,150,150,0.3)', 'rgba(85,85,85,0.8)', 1.8);
[[108, 20, 'cor=0.68, p=1.1e\u2212172', 'blue', 'MS'],
 [277, 188, 'cor=0.6, p=1.3e\u221210', 'lightyellow', 'MS'],
 [460, 374, 'cor=0.63, p=1.1e\u221253', 'green', 'SLE'],
 [628.5, 540, 'cor=0.56, p=2.1e\u2212105', 'cyan', 'SLE'],
 [817, 730, 'cor=0.89, p<1e\u2212200', 'blue', 'RA'],
 [987, 901, 'cor=0.49, p=5.8e\u221209', 'black', 'RA']
].forEach(p => {
  txt('Module membership vs. gene significance', p[0], 704, 4.8, { bold: true, align: 'center' });
  txt(p[2], p[0], 709.5, 4.8, { bold: true, align: 'center' });
  txt('Module Membership in ' + p[3] + ' module', p[0], 863, 5.4, { align: 'center' });
  txt('Gene significance for ' + (p[4] === 'RA' ? '' : ' ') + p[4], p[1], 782, 5.4, { rot: true });
});

// ---------- panel letters ----------
txt('MS', 2, 0, 19, { serif: true, top: true });
txt('A', 5, 17.5, 19, { serif: true, top: true });
txt('SLE', 360, 0, 19, { serif: true, top: true });
txt('E', 368, 17.5, 19, { serif: true, top: true });
txt('RA', 715, 0, 19, { serif: true, top: true });
txt('I', 718, 17.5, 19, { serif: true, top: true });
[['B', 5, 207], ['F', 371, 207], ['J', 718, 210], ['C', 11, 442], ['G', 371, 445.5], ['K', 722, 446.5],
 ['D', 9, 685], ['H', 366, 685], ['L', 719, 685]].forEach(l => txt(l[0], l[1], l[2], 15, { serif: true, top: true }));
</script>
</body>
</html>
